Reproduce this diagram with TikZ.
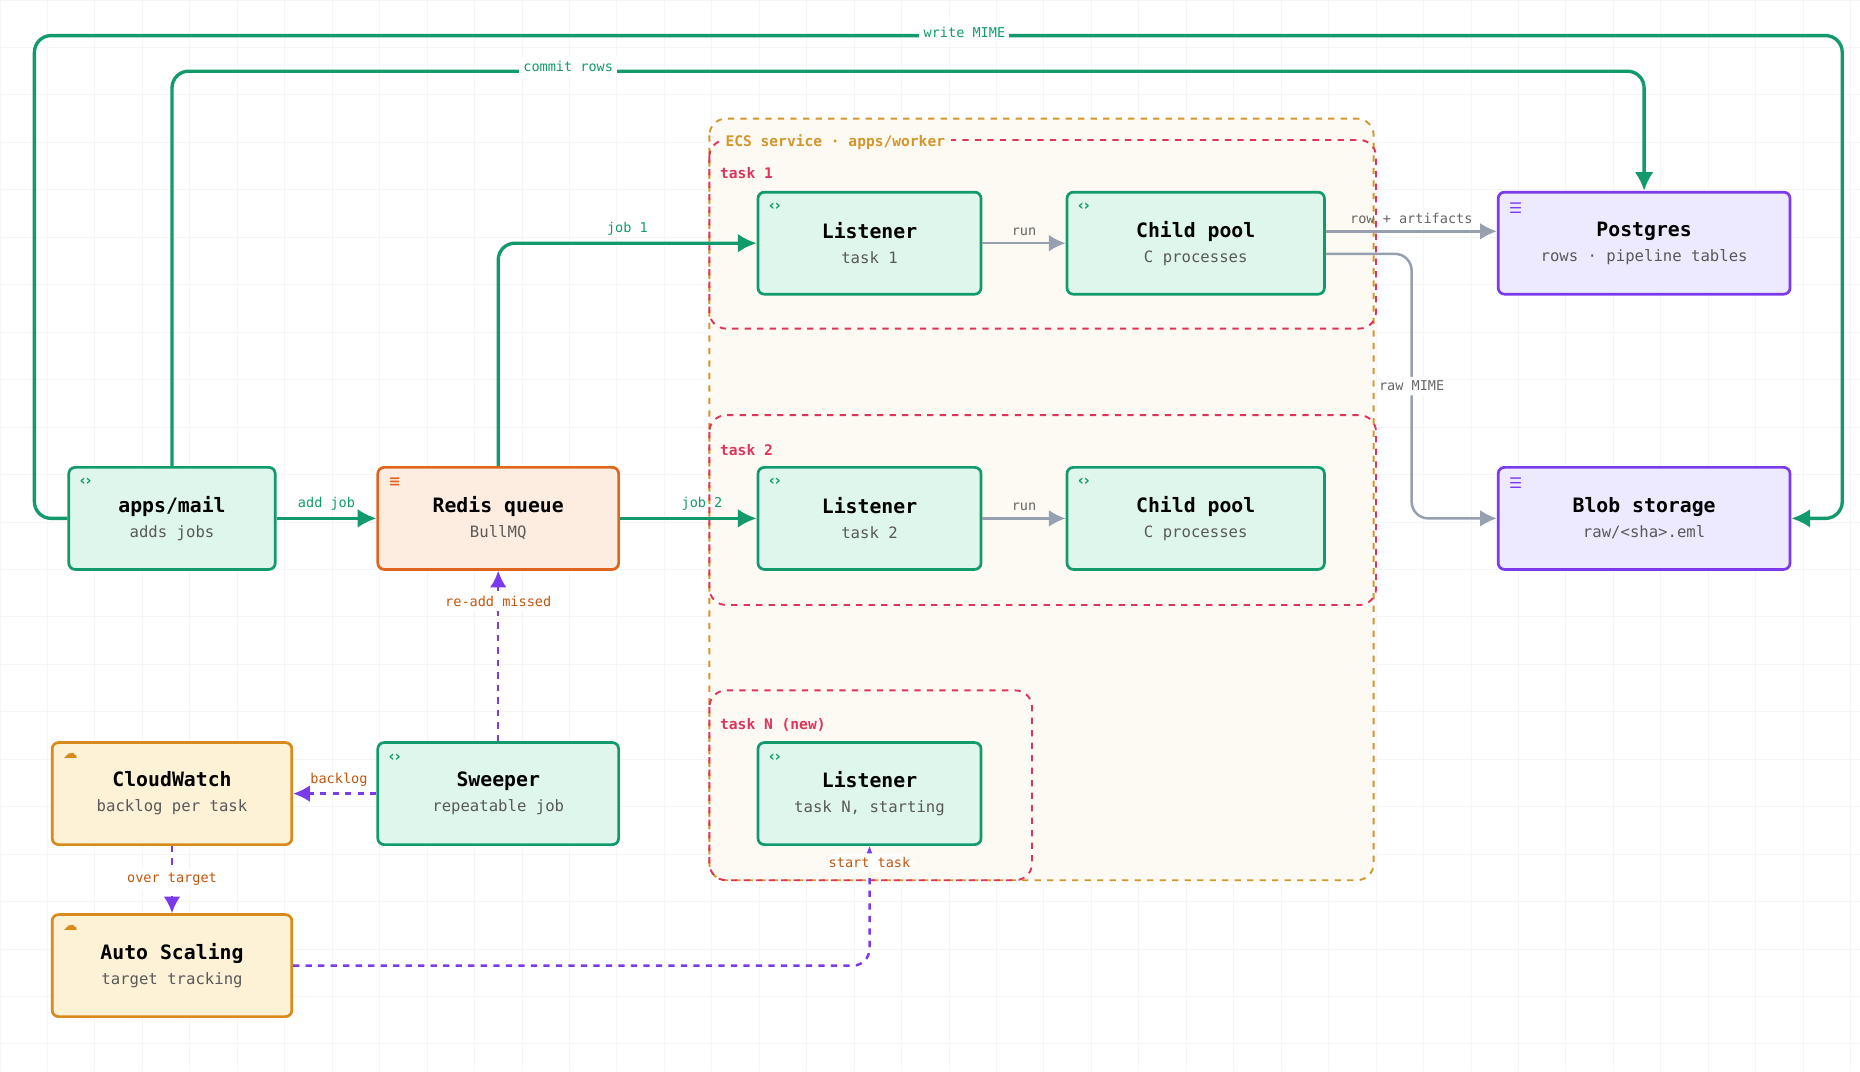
\documentclass[tikz,border=0pt]{standalone}
\usepackage{fontspec}
\setmonofont{DejaVu Sans Mono}
\newfontfamily\iconfont{DejaVu Sans}
\usetikzlibrary{positioning,arrows.meta}
\definecolor{gline}{HTML}{129A6C}
\definecolor{gfill}{HTML}{DFF6EC}
\definecolor{oline}{HTML}{E0651F}
\definecolor{ofill}{HTML}{FDEDE1}
\definecolor{pline}{HTML}{7C3AED}
\definecolor{pfill}{HTML}{EDE9FE}
\definecolor{cline}{HTML}{D98A1C}
\definecolor{cfill}{HTML}{FDF1D6}
\definecolor{redd}{HTML}{E0335A}
\definecolor{ecs}{HTML}{D4952B}
\definecolor{grayline}{HTML}{97A0AE}
\definecolor{lbl}{HTML}{C2560C}
\newcommand{\boxtext}[2]{{\fontsize{9.5}{11}\selectfont\bfseries\color{black}#1}\\[3pt]#2}
\tikzset{
  box/.style={draw, rounded corners=3pt, line width=1.3pt, minimum height=86*0.02cm,
    align=center, font=\ttfamily\fontsize{7.5}{9}\selectfont, text=black!65},
  svc/.style={box, draw=gline, fill=gfill},
  que/.style={box, draw=oline, fill=ofill},
  store/.style={box, draw=pline, fill=pfill},
  aws/.style={box, draw=cline, fill=cfill},
  icon/.style={font=\iconfont\bfseries\fontsize{7}{8}\selectfont, text=#1, inner sep=0pt},
  flow/.style={draw=gline, line width=1.6pt, -{Latex[length=9pt,width=9pt]}, rounded corners=8pt},
  soft/.style={draw=grayline, line width=1.2pt, -{Latex[length=8pt,width=8pt]}, rounded corners=8pt},
  ctrl/.style={draw=pline, line width=1.2pt, dashed, -{Latex[length=8pt,width=8pt]}, rounded corners=8pt},
  elbl/.style={fill=white, inner sep=2pt, font=\ttfamily\fontsize{6.5}{7}\selectfont, text=#1},
  grplbl/.style={inner sep=1pt, anchor=west, font=\ttfamily\bfseries\fontsize{7}{8}\selectfont, text=#1},
  group/.style={dashed, rounded corners=8pt, line width=0.9pt}
}
\begin{document}
\begin{tikzpicture}[x=0.02cm, y=-0.02cm]
\useasboundingbox (0,0) rectangle (1568,903);
\draw[black!4] (0,0) grid[step=40*0.02cm] (1568,903);

% containers
\draw[group, draw=ecs, fill=ecs!5] (598,100) rectangle (1158,742);
\draw[group, draw=redd] (598,118) rectangle (1160,277);
\draw[group, draw=redd] (598,350) rectangle (1160,510);
\draw[group, draw=redd] (598,582) rectangle (870,742);
\node[grplbl=ecs, fill=ecs!5, inner sep=3pt] (ecslbl) at (606,120) {ECS service · apps/worker};
\node[grplbl=redd] (t1lbl) at (605,146) {task 1};
\node[grplbl=redd] (t2lbl) at (605,379) {task 2};
\node[grplbl=redd] (tnlbl) at (605,611) {task N (new)};

% nodes
\node[svc, minimum width=174*0.02cm] (mail) at (145,437) {\boxtext{apps/mail}{adds jobs}};
\node[que, minimum width=203*0.02cm] (redis) at (420,437) {\boxtext{Redis queue}{BullMQ}};
\node[svc, minimum width=188*0.02cm] (lis1) at (733,205) {\boxtext{Listener}{task 1}};
\node[svc, minimum width=217*0.02cm] (pool1) at (1008,205) {\boxtext{Child pool}{C processes}};
\node[store, minimum width=246*0.02cm] (pg) at (1386,205) {\boxtext{Postgres}{rows · pipeline tables}};
\node[svc, minimum width=188*0.02cm] (lis2) at (733,437) {\boxtext{Listener}{task 2}};
\node[svc, minimum width=217*0.02cm] (pool2) at (1008,437) {\boxtext{Child pool}{C processes}};
\node[store, minimum width=246*0.02cm] (blob) at (1386,437) {\boxtext{Blob storage}{raw/<sha>.eml}};
\node[aws, minimum width=202*0.02cm] (cw) at (145,669) {\boxtext{CloudWatch}{backlog per task}};
\node[svc, minimum width=203*0.02cm] (sweep) at (420,669) {\boxtext{Sweeper}{repeatable job}};
\node[svc, minimum width=188*0.02cm] (lisn) at (733,669) {\boxtext{Listener}{task N, starting}};
\node[aws, minimum width=202*0.02cm] (asg) at (145,814) {\boxtext{Auto Scaling}{target tracking}};

% icons
\foreach \n in {mail,lis1,pool1,lis2,pool2,sweep,lisn}
  \node[icon=gline, anchor=north west] (\n-ic) at ([xshift=10*0.02cm,yshift=-10*0.02cm]\n.north west) {‹›};
\node[icon=oline, anchor=north west] (redis-ic) at ([xshift=10*0.02cm,yshift=-10*0.02cm]redis.north west) {≡};
\foreach \n in {pg,blob}
  \node[icon=pline, anchor=north west] (\n-ic) at ([xshift=10*0.02cm,yshift=-10*0.02cm]\n.north west) {☰};
\foreach \n in {cw,asg}
  \node[icon=cline, anchor=north west] (\n-ic) at ([xshift=10*0.02cm,yshift=-10*0.02cm]\n.north west) {☁};

% main flow
\coordinate (wm1) at (29,30);
\coordinate (wm2) at (1553,30);
\draw[flow] (mail.west) -| (wm1) -- (wm2) |- (blob.east);
\node[elbl=gline] (wmlbl) at (813,27) {write MIME};
\coordinate (cr1) at (145,60);
\draw[flow] (mail.north) -- (cr1) -| (pg.north);
\node[elbl=gline] (crlbl) at (479,56) {commit rows};
\draw[flow] (mail) -- node[elbl=gline, fill=none, above=1pt] {add job} (redis);
\draw[flow] (redis.north) |- node[elbl=gline, fill=none, pos=0.75, above=1pt] {job 1} (lis1.west);
\draw[flow] (redis) -- node[elbl=gline, fill=none, pos=0.6, above=1pt] {job 2} (lis2);

% workers
\draw[soft] (lis1) -- node[elbl=black!60, fill=none, above=1pt] {run} (pool1);
\draw[soft] (lis2) -- node[elbl=black!60, fill=none, above=1pt] {run} (pool2);
\draw[soft] ([yshift=10*0.02cm]pool1.east) -- node[elbl=black!60, fill=none, above=1pt] {row + artifacts} ([yshift=10*0.02cm]pg.west);
\coordinate (rm1) at (1190,214);
\draw[soft] ([yshift=-9*0.02cm]pool1.east) -- (rm1) |- node[elbl=black!60, pos=0.25] {raw MIME} (blob.west);

% scaling
\draw[ctrl] (sweep) -- node[elbl=lbl, pos=0.82] {re-add missed} (redis);
\draw[ctrl] (sweep) -- node[elbl=lbl, fill=none, above=1pt, pos=0.45] {backlog} (cw);
\draw[ctrl] (cw) -- node[elbl=lbl] {over target} (asg);
\draw[ctrl] (asg.east) -| node[elbl=lbl, pos=0.93] {start task} (lisn.south);
\end{tikzpicture}
\end{document}
